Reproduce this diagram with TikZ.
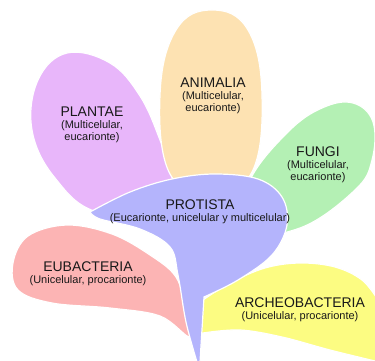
\documentclass[tikz,border=0pt]{standalone}
\usepackage{fontspec}
\setmainfont{Liberation Sans}
\definecolor{cplant}{RGB}{232,182,250}
\definecolor{canim}{RGB}{253,226,178}
\definecolor{cfung}{RGB}{180,240,180}
\definecolor{cprot}{RGB}{180,180,252}
\definecolor{ceub}{RGB}{252,180,180}
\definecolor{carch}{RGB}{252,252,130}
\tikzset{
  petal/.style={draw=white, line width=1.2pt},
  lbl/.style={align=center, inner sep=0pt, text=black!90, font=\fontsize{11}{11.8}\selectfont},
}
\newcommand{\ttl}[1]{{\fontsize{14}{15}\selectfont #1}}
\begin{document}
\begin{tikzpicture}[x=1pt,y=-1pt]
\useasboundingbox (0,0) rectangle (375,361);
\clip (0,0) rectangle (375,361);
% Plantae
\path[petal, fill=cplant] plot[smooth cycle, tension=0.65] coordinates {(67,53) (110,63) (140,96) (160,140) (173,180) (188,216) (100,213) (55,178) (32,130) (38,80)};
% Animalia
\path[petal, fill=canim] plot[smooth cycle, tension=0.7] coordinates {(212,10) (248,30) (262,95) (252,172) (212,192) (170,174) (160,95) (176,30)};
% Fungi
\path[petal, fill=cfung] plot[smooth cycle, tension=0.65] coordinates {(353,103) (373,122) (372,160) (355,190) (300,228) (240,232) (250,180) (288,132) (322,108)};
% Eubacteria
\path[petal, fill=ceub] plot[smooth cycle, tension=0.6] coordinates {(13,263) (28,236) (67,225) (112,234) (150,255) (176,277) (186,310) (190,337) (160,316) (110,308) (52,303) (18,290)};
% Archeobacteria
\path[petal, fill=carch] (196,300) -- plot[smooth, tension=0.6] coordinates {(203,300) (230,283) (265,268) (300,263) (335,267) (362,280) (378,300)} -- (380,365) -- plot[smooth, tension=0.6] coordinates {(375,361) (330,350) (282,337) (240,330) (203,333)} -- (196,334) -- cycle;
% Protista
\path[petal, fill=cprot] plot[smooth, tension=0.6] coordinates {(90,212) (130,192) (172,179) (215,174) (258,179) (282,197) (287,225) (272,255) (238,280) (204,297)} -- (200,362) -- plot[smooth, tension=0.6] coordinates {(197,362) (186,322) (178,275) (170,247) (140,229) (100,219) (90,212)} -- cycle;
% Labels
\node[lbl] (anim) at (213,96) {\ttl{ANIMALIA}\\(Multicelular,\\eucarionte)};
\node[lbl] (plant) at (92,125) {\ttl{PLANTAE}\\(Multicelular,\\eucarionte)};
\node[lbl] (fung) at (318,165) {\ttl{FUNGI}\\(Multicelular,\\eucarionte)};
\node[lbl] (prot) at (200,212) {\ttl{PROTISTA}\\(Eucarionte, unicelular y multicelular)};
\node[lbl] (eub) at (88,274) {\ttl{EUBACTERIA}\\(Unicelular, procarionte)};
\node[lbl] (arch) at (300,310) {\ttl{ARCHEOBACTERIA}\\(Unicelular, procarionte)};
\end{tikzpicture}
\end{document}
